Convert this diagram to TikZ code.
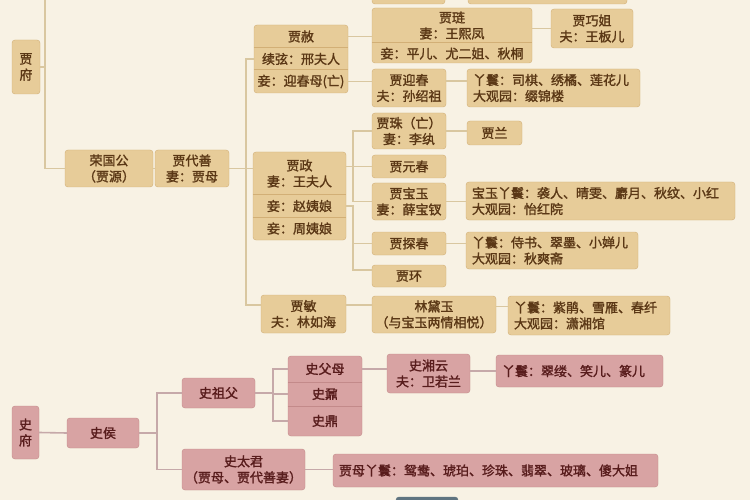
\documentclass[tikz,border=0pt]{standalone}
\usepackage{fontspec}
\newfontfamily\cjk[FakeBold=1.6]{Noto Sans CJK SC}
\definecolor{paper}{HTML}{F8F2E4}
\definecolor{tanfill}{HTML}{E7CC99}
\definecolor{tanedge}{HTML}{D2AF76}
\definecolor{tantext}{HTML}{5A3715}
\definecolor{tanline}{HTML}{D9C7A0}
\definecolor{pinkfill}{HTML}{D8A3A3}
\definecolor{pinkedge}{HTML}{C38A8A}
\definecolor{pinktext}{HTML}{581C1C}
\definecolor{pinkline}{HTML}{C6A9A9}
\definecolor{slate}{HTML}{5F7480}
\begin{document}
\begin{tikzpicture}[x=1pt, y=-1pt,
        jbox/.style={draw=tanedge, fill=tanfill, rounded corners=3pt, text=tantext, font=\cjk\fontsize{13}{16}\selectfont, align=center, inner sep=0pt},
        jinfo/.style={jbox, align=left, inner xsep=6pt},
        jrow/.style={text=tantext, font=\cjk\fontsize{13}{16}\selectfont, align=center, inner sep=0pt},
        jdiv/.style={draw=tanedge, line width=1pt},
        jlink/.style={draw=tanline, line width=1.6pt},
        sbox/.style={draw=pinkedge, fill=pinkfill, rounded corners=3pt, text=pinktext, font=\cjk\fontsize{13}{16}\selectfont, align=center, inner sep=0pt},
        sinfo/.style={sbox, align=left, inner xsep=6pt},
        srow/.style={text=pinktext, font=\cjk\fontsize{13}{16}\selectfont, align=center, inner sep=0pt},
        sdiv/.style={draw=pinkedge, line width=1pt},
        slink/.style={draw=pinkline, line width=1.6pt}]
            \useasboundingbox (0,0) rectangle (750,500);
            \clip (0,0) rectangle (750,500);
            \fill[paper] (0,0) rectangle (750,500);
            \node[jbox, minimum width=73, minimum height=24] (topa) at (408.5,-8) {};
            \node[jbox, minimum width=159, minimum height=24] (topb) at (547.5,-8) {};
            \node[jbox, minimum width=28, minimum height=54] (jiafu) at (26,67) {贾\\府};
            \node[jbox, minimum width=88, minimum height=37] (rongguo) at (109,168.5) {荣国公\\（贾源）};
            \node[jbox, minimum width=74, minimum height=37] (daishan) at (192,168.5) {贾代善\\妻：贾母};
            \node[jbox, minimum width=94, minimum height=68] (jiashe) at (301,59) {};
            \node[jrow] (she1) at (301,36.5) {贾赦};
            \node[jrow] (she2) at (301,59) {续弦：邢夫人};
            \node[jrow] (she3) at (301,81.5) {妾：迎春母(亡)};
            \draw[jdiv] (jiashe.west |- 0,48) -- (jiashe.east |- 0,48);
            \draw[jdiv] (jiashe.west |- 0,70) -- (jiashe.east |- 0,70);
            \node[jbox, minimum width=93, minimum height=88] (jiazheng) at (299.5,196) {};
            \node[jrow] (zheng1) at (299.5,173.5) {贾政\\妻：王夫人};
            \node[jrow] (zheng2) at (299.5,206) {妾：赵姨娘};
            \node[jrow] (zheng3) at (299.5,228.5) {妾：周姨娘};
            \draw[jdiv] (jiazheng.west |- 0,195) -- (jiazheng.east |- 0,195);
            \draw[jdiv] (jiazheng.west |- 0,217) -- (jiazheng.east |- 0,217);
            \node[jbox, minimum width=85, minimum height=38] (jiamin) at (303.5,314) {贾敏\\夫：林如海};
            \node[jbox, minimum width=160, minimum height=55] (jialian) at (452,35.5) {};
            \node[jrow] (lian1) at (452,25.5) {贾琏\\妻：王熙凤};
            \node[jrow] (lian2) at (452,53.5) {妾：平儿、尤二姐、秋桐};
            \draw[jdiv] (jialian.west |- 0,43) -- (jialian.east |- 0,43);
            \node[jbox, minimum width=82, minimum height=39] (qiaojie) at (592,28.5) {贾巧姐\\夫：王板儿};
            \node[jbox, minimum width=74, minimum height=38] (yingchun) at (409,88) {贾迎春\\夫：孙绍祖};
            \node[jinfo, text width=161, minimum height=38] (ycinfo) at (553.5,88) {丫鬟：司棋、绣橘、莲花儿\\大观园：缀锦楼};
            \node[jbox, minimum width=74, minimum height=36] (jiazhu) at (409,131) {贾珠（亡）\\妻：李纨};
            \node[jbox, minimum width=55, minimum height=24] (jialan) at (494.5,133) {贾兰};
            \node[jbox, minimum width=74, minimum height=23] (yuanchun) at (409,166.5) {贾元春};
            \node[jbox, minimum width=74, minimum height=37] (baoyu) at (409,201.5) {贾宝玉\\妻：薛宝钗};
            \node[jinfo, text width=257, minimum height=38] (byinfo) at (600.5,201) {宝玉丫鬟：袭人、晴雯、麝月、秋纹、小红\\大观园：怡红院};
            \node[jbox, minimum width=74, minimum height=23] (tanchun) at (409,243.5) {贾探春};
            \node[jinfo, text width=160, minimum height=37] (tcinfo) at (552,250.5) {丫鬟：侍书、翠墨、小婵儿\\大观园：秋爽斋};
            \node[jbox, minimum width=74, minimum height=22] (jiahuan) at (409,276) {贾环};
            \node[jbox, minimum width=124, minimum height=37] (daiyu) at (434,314.5) {林黛玉\\（与宝玉两情相悦）};
            \node[jinfo, text width=150, minimum height=39] (dyinfo) at (589,315.5) {丫鬟：紫鹃、雪雁、春纤\\大观园：潇湘馆};
            \coordinate (trunk) at (45,-10);
            \coordinate (branch) at (246,0);
            \coordinate (zbranch) at (353,0);
            \draw[jlink] (trunk) |- (rongguo.west);
            \draw[jlink] (jiafu.east) -- (jiafu.east -| trunk);
            \draw[jlink] (rongguo.east) -- (daishan.west);
            \draw[jlink] (daishan.east) -- (daishan.east -| jiazheng.west);
            \draw[jlink] (she2 -| jiashe.west) -- (she2 -| branch) |- ([yshift=9pt]jiamin.west);
            \draw[jlink] (she1 -| jiashe.east) -- (she1 -| jialian.west);
            \draw[jlink] (she3 -| jiashe.east) -- (she3 -| yingchun.west);
            \draw[jlink] (qiaojie.west -| jialian.east) -- (qiaojie.west);
            \draw[jlink] ([yshift=7pt]yingchun.east) -- ([yshift=7pt]yingchun.east -| ycinfo.west);
            \draw[jlink] (yuanchun.west -| jiazheng.east) -- (yuanchun.west);
            \draw[jlink] (jiazhu.west) -| (zbranch |- baoyu.west) -- (baoyu.west);
            \draw[jlink] (zheng2 -| jiazheng.east) -- (zheng2 -| zbranch) |- ([yshift=6pt]jiahuan.west);
            \draw[jlink] (tanchun.west -| zbranch) -- (tanchun.west);
            \draw[jlink] (jiazhu.east) -- (jiazhu.east -| jialan.west);
            \draw[jlink] (baoyu.east) -- (baoyu.east -| byinfo.west);
            \draw[jlink] (tanchun.east) -- (tanchun.east -| tcinfo.west);
            \draw[jlink] ([yshift=9pt]jiamin.east) -- ([yshift=9pt]jiamin.east -| daiyu.west);
            \draw[jlink] ([yshift=8pt]daiyu.east) -- ([yshift=8pt]daiyu.east -| dyinfo.west);
            \node[sbox, minimum width=27, minimum height=53] (shifu) at (25.5,432.5) {史\\府};
            \node[sbox, minimum width=72, minimum height=30] (shihou) at (103,433) {史侯};
            \node[sbox, minimum width=73, minimum height=30] (shizufu) at (218.5,393) {史祖父};
            \node[sbox, minimum width=123, minimum height=41] (shitaijun) at (243.5,469.5) {史太君\\（贾母、贾代善妻）};
            \node[sbox, minimum width=74, minimum height=80] (shistack) at (325,396) {};
            \node[srow] (fumu) at (325,369) {史父母};
            \node[srow] (nai) at (325,394) {史鼐};
            \node[srow] (ding) at (325,421) {史鼎};
            \draw[sdiv] (shistack.west |- 0,382) -- (shistack.east |- 0,382);
            \draw[sdiv] (shistack.west |- 0,406) -- (shistack.east |- 0,406);
            \node[sbox, minimum width=83, minimum height=39] (xiangyun) at (428.5,373.5) {史湘云\\夫：卫若兰};
            \node[sinfo, text width=155, minimum height=32] (xyinfo) at (579.5,371) {丫鬟：翠缕、笑儿、篆儿};
            \node[sinfo, text width=313, minimum height=33] (jminfo) at (495.5,470.5) {贾母丫鬟：鸳鸯、琥珀、珍珠、翡翠、玻璃、傻大姐};
            \node[draw=slate, fill=slate, rounded corners=3pt, minimum width=62, minimum height=23] (nextbox) at (427,508.5) {};
            \coordinate (sbranch) at (157,0);
            \coordinate (fbranch) at (273,0);
            \draw[slink] (shifu.east) -- (shihou.west);
            \draw[slink] (shihou.east) -- (shihou.east -| sbranch);
            \draw[slink] (shizufu.west) -| (sbranch |- shihou.east) |- (shitaijun.west);
            \draw[slink] (shizufu.east) -- (shizufu.east -| fbranch);
            \draw[slink] (fumu -| shistack.west) -| (fbranch |- ding) -- (ding -| shistack.west);
            \draw[slink] (nai -| fbranch) -- (nai -| shistack.west);
            \draw[slink] (fumu -| shistack.east) -- (fumu -| xiangyun.west);
            \draw[slink] (xyinfo.west -| xiangyun.east) -- (xyinfo.west);
            \draw[slink] (shitaijun.east) -- (shitaijun.east -| jminfo.west);
        \end{tikzpicture}
\end{document}
